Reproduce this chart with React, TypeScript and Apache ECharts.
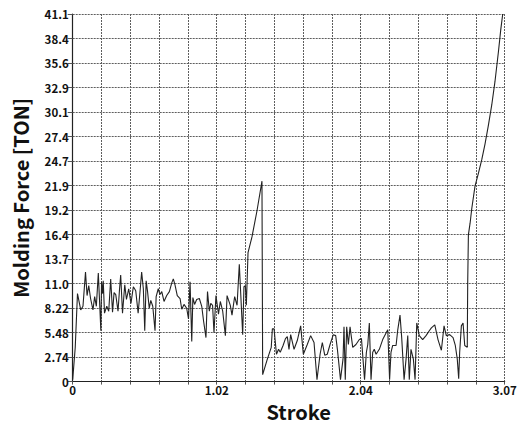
import React, { useEffect, useRef } from "react";
import * as echarts from "echarts";

const strokeTickLabels = ["0", "1.02", "2.04", "3.07"];
const forceTickLabels = ["0", "2.74", "5.48", "8.22", "11.0", "13.7", "16.4", "19.2", "21.9", "24.7", "27.4", "30.1", "32.9", "35.6", "38.4", "41.1"];

const strokeValues = [
  0, 0.018, 0.034, 0.045, 0.057, 0.073, 0.091, 0.102, 0.114, 0.127,
  0.144, 0.156, 0.168, 0.182, 0.194, 0.2, 0.205, 0.212, 0.217, 0.226,
  0.242, 0.256, 0.27, 0.283, 0.294, 0.306, 0.322, 0.333, 0.341, 0.354,
  0.37, 0.382, 0.398, 0.414, 0.431, 0.448, 0.465, 0.476, 0.49, 0.502,
  0.512, 0.522, 0.532, 0.544, 0.555, 0.569, 0.585, 0.593, 0.608, 0.62,
  0.633, 0.649, 0.668, 0.687, 0.704, 0.715, 0.727, 0.743, 0.763, 0.775,
  0.791, 0.81, 0.823, 0.834, 0.846, 0.854, 0.866, 0.881, 0.9, 0.917,
  0.93, 0.947, 0.958, 0.971, 0.981, 0.994, 1.004, 1.018, 1.036, 1.049,
  1.066, 1.085, 1.097, 1.12, 1.132, 1.151, 1.168, 1.184, 1.198, 1.208,
  1.217, 1.227, 1.234, 1.246, 1.274, 1.31, 1.345, 1.35, 1.381, 1.411,
  1.419, 1.431, 1.448, 1.463, 1.475, 1.495, 1.512, 1.525, 1.537, 1.549,
  1.573, 1.596, 1.62, 1.639, 1.667, 1.691, 1.715, 1.736, 1.758, 1.774,
  1.791, 1.809, 1.829, 1.852, 1.869, 1.881, 1.903, 1.921, 1.928, 1.937,
  1.947, 1.959, 1.971, 1.99, 2.013, 2.037, 2.052, 2.074, 2.087, 2.097,
  2.108, 2.12, 2.132, 2.143, 2.156, 2.179, 2.203, 2.239, 2.252, 2.262,
  2.274, 2.298, 2.31, 2.326, 2.338, 2.355, 2.369, 2.381, 2.392, 2.404,
  2.421, 2.433, 2.445, 2.463, 2.487, 2.511, 2.534, 2.549, 2.573, 2.596,
  2.62, 2.639, 2.655, 2.679, 2.703, 2.719, 2.733, 2.743, 2.75, 2.762,
  2.774, 2.786, 2.804, 2.807, 2.812, 2.824, 2.836, 2.859, 2.883, 2.907,
  2.93, 2.954, 2.978, 3.001, 3.025, 3.042, 3.056,
];

const forceValues = [
  0.22, 3.82, 9.84, 8.96, 8.01, 8.42, 12.24, 9.62, 10.74, 9.29,
  8.01, 9.51, 8.42, 12.13, 7.87, 5.68, 11.15, 9.84, 11.26, 7.65,
  8.42, 7.87, 11.48, 7.76, 9.95, 9.73, 7.87, 10.38, 11.91, 7.65,
  10.82, 9.18, 10.38, 8.74, 10.6, 10.16, 7.65, 9.62, 12.24, 10.38,
  5.68, 11.26, 10.06, 8.2, 9.07, 8.42, 5.68, 9.51, 10.38, 9.73,
  10.06, 8.96, 9.62, 10.06, 11.04, 11.48, 10.82, 9.62, 9.29, 8.09,
  8.63, 8.2, 7.0, 11.15, 4.48, 9.4, 8.63, 9.18, 9.29, 8.42,
  6.78, 4.92, 10.06, 7.87, 8.74, 8.53, 5.47, 9.62, 7.54, 8.96,
  7.87, 5.14, 9.62, 8.53, 7.43, 9.51, 8.53, 13.12, 8.53, 5.25,
  10.6, 10.71, 8.53, 14.43, 16.18, 19.13, 22.41, 0.77, 2.4, 3.83,
  5.9, 5.9, 3.06, 3.61, 3.28, 4.04, 4.81, 5.03, 3.61, 5.25,
  3.61, 4.59, 6.23, 3.06, 4.15, 5.14, 4.37, 0.22, 3.06, 4.37,
  2.95, 3.06, 4.15, 5.25, 5.14, 3.61, 0.22, 2.51, 6.12, 0.22,
  6.12, 4.15, 6.12, 3.83, 4.15, 4.7, 4.81, 0.22, 3.28, 4.15,
  6.56, 0.22, 3.28, 3.61, 3.06, 3.61, 4.7, 5.79, 0.22, 3.28,
  4.04, 4.04, 5.79, 7.43, 4.92, 0.22, 2.51, 5.14, 0.22, 3.61,
  2.51, 0.22, 6.56, 5.14, 4.7, 5.14, 5.68, 6.01, 6.34, 4.7,
  3.5, 6.23, 5.14, 5.25, 4.92, 4.04, 2.51, 0.33, 3.28, 6.23,
  6.56, 4.04, 3.83, 10.93, 16.4, 17.71, 19.35, 21.86, 23.28, 24.81,
  26.56, 28.64, 30.93, 33.56, 36.83, 39.35, 41.1,
];

const X_MAX = 3.07;
const X_STEP = X_MAX / 15;
const Y_MAX = 41.1;
const Y_STEP = 2.74;

export default function App() {
  const ref = useRef<HTMLDivElement>(null);
  useEffect(() => {
    if (!ref.current) return;
    const chart = echarts.init(ref.current, null, { renderer: "svg" });
    const font = "'Noto Sans CJK KR', 'Open Sans', sans-serif";
    const data = strokeValues.map((x, i) => [x, forceValues[i]]);
    chart.setOption({
      animation: false,
      backgroundColor: "#ffffff",
      grid: { left: 72.7, right: 17.3, top: 14, bottom: 36, containLabel: false },
      xAxis: {
        type: "value",
        min: 0,
        max: X_MAX,
        interval: X_STEP,
        name: "Stroke",
        nameLocation: "middle",
        nameGap: 14,
        nameTextStyle: {
          fontFamily: font,
          fontSize: 20,
          fontWeight: "bold",
          color: "#111",
          verticalAlign: "top",
          padding: [0, 0, 0, 20],
        },
        axisLine: { show: true, lineStyle: { color: "#222", width: 1.2 } },
        axisTick: { show: true, length: 3, lineStyle: { color: "#555" } },
        axisLabel: {
          show: true,
          showMaxLabel: true,
          showMinLabel: true,
          margin: 3,
          fontFamily: font,
          fontSize: 11.5,
          fontWeight: "bold",
          color: "#111",
          formatter: (v: number) => {
            const i = Math.round(v / X_STEP);
            return i % 5 === 0 ? strokeTickLabels[i / 5] ?? "" : "";
          },
        },
        splitLine: { show: true, lineStyle: { color: "#5e5e5e", width: 1, type: [2, 1] } },
      },
      yAxis: {
        type: "value",
        min: 0,
        max: Y_MAX,
        interval: Y_STEP,
        name: "Molding Force [TON]",
        nameLocation: "middle",
        nameGap: 42,
        nameTextStyle: { fontFamily: font, fontSize: 20, fontWeight: "bold", color: "#111" },
        axisLine: { show: true, lineStyle: { color: "#222", width: 1.2 } },
        axisTick: { show: true, length: 5, lineStyle: { color: "#555" } },
        axisLabel: {
          show: true,
          showMaxLabel: true,
          margin: 4,
          fontFamily: font,
          fontSize: 11.5,
          fontWeight: "bold",
          color: "#111",
          formatter: (v: number) => forceTickLabels[Math.round(v / Y_STEP)] ?? "",
        },
        splitLine: { show: true, lineStyle: { color: "#5e5e5e", width: 1, type: [2, 1] } },
      },
      series: [
        {
          type: "line",
          data,
          showSymbol: false,
          symbol: "none",
          lineStyle: { color: "#222", width: 1.1 },
        },
      ],
    });
    return () => chart.dispose();
  }, []);
  return <div ref={ref} style={{ position: "fixed", left: 0, top: 0, width: 522, height: 426 }} />;
}
